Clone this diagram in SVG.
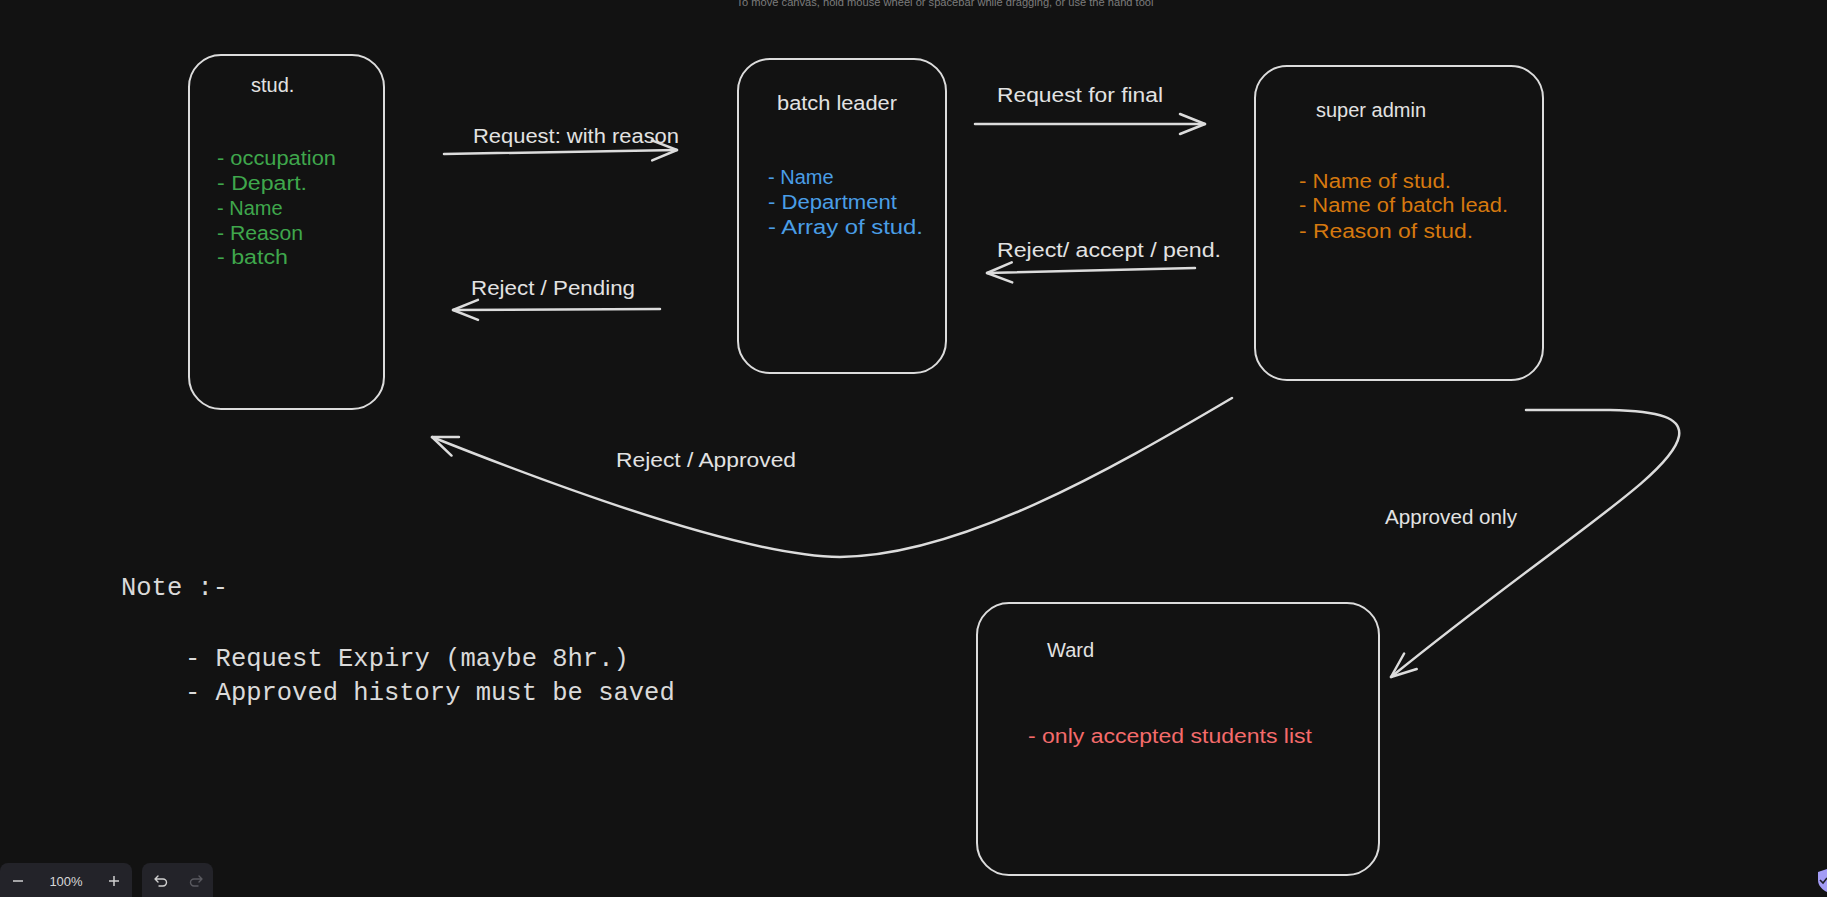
<svg xmlns="http://www.w3.org/2000/svg" width="1827" height="897" viewBox="0 0 1827 897">
<style>
.box{fill:#121212;stroke:#dcdcdc;stroke-width:2}
.lbl{font-family:"Liberation Sans","Noto Sans",sans-serif;font-size:20px;fill:#e2e2e2}
.green{fill:#3fa74c}
.blue{fill:#4a9ee6}
.orange{fill:#d6790f}
.red{fill:#f46b6b}
.conn{fill:none;stroke:#dcdcdc;stroke-width:2.5;stroke-linecap:round;stroke-linejoin:round}
.note{font-family:"Liberation Mono","DejaVu Sans Mono",monospace;font-size:25.5px;fill:#dadada}
.ui{fill:#232329}
</style>
<defs>
<marker id="ah" markerUnits="userSpaceOnUse" markerWidth="40" markerHeight="40" viewBox="-30 -20 40 40" refX="0" refY="0" orient="auto" overflow="visible">
<path d="M -25 -10 L 0 0 L -25 10" fill="none" stroke="#dcdcdc" stroke-width="2.5" stroke-linecap="round" stroke-linejoin="round"/>
</marker>
</defs>
<rect width="1827" height="897" fill="#121212"/>
<text x="945" y="6" text-anchor="middle" font-family="Liberation Sans,sans-serif" font-size="11.5" fill="#7c7c7c" textLength="417" lengthAdjust="spacingAndGlyphs">To move canvas, hold mouse wheel or spacebar while dragging, or use the hand tool</text>

<g id="stud">
<rect class="box" x="189" y="55" width="195" height="354" rx="32"/>
<text class="lbl" x="251" y="92">stud.</text>
<text x="217" y="165" class="lbl green" textLength="119" lengthAdjust="spacingAndGlyphs">- occupation</text>
<text x="217" y="190" class="lbl green" textLength="90" lengthAdjust="spacingAndGlyphs">- Depart.</text>
<text x="217" y="215" class="lbl green">- Name</text>
<text x="217" y="240" class="lbl green" textLength="86" lengthAdjust="spacingAndGlyphs">- Reason</text>
<text x="217" y="264" class="lbl green" textLength="71" lengthAdjust="spacingAndGlyphs">- batch</text>
</g>

<g id="batch-leader">
<rect class="box" x="738" y="59" width="208" height="314" rx="32"/>
<text class="lbl" x="777" y="110" textLength="120" lengthAdjust="spacingAndGlyphs">batch leader</text>
<text class="lbl blue" x="768" y="184">- Name</text>
<text class="lbl blue" x="768" y="209" textLength="129" lengthAdjust="spacingAndGlyphs">- Department</text>
<text class="lbl blue" x="768" y="234" textLength="155" lengthAdjust="spacingAndGlyphs">- Array of stud.</text>
</g>

<g id="super-admin">
<rect class="box" x="1255" y="66" width="288" height="314" rx="32"/>
<text class="lbl" x="1316" y="117" textLength="110" lengthAdjust="spacingAndGlyphs">super admin</text>
<text class="lbl orange" x="1299" y="188" textLength="152" lengthAdjust="spacingAndGlyphs">- Name of stud.</text>
<text class="lbl orange" x="1299" y="212" textLength="209" lengthAdjust="spacingAndGlyphs">- Name of batch lead.</text>
<text class="lbl orange" x="1299" y="238" textLength="174" lengthAdjust="spacingAndGlyphs">- Reason of stud.</text>
</g>

<g id="ward">
<rect class="box" x="977" y="603" width="402" height="272" rx="32"/>
<text class="lbl" x="1047" y="657">Ward</text>
<text class="lbl red" x="1028" y="743" textLength="284" lengthAdjust="spacingAndGlyphs">- only accepted students list</text>
</g>

<g id="connectors">
<path class="conn" d="M 444 154 L 677 150" marker-end="url(#ah)"/>
<text class="lbl" x="473" y="143" textLength="206" lengthAdjust="spacingAndGlyphs">Request: with reason</text>
<path class="conn" d="M 660 309 L 453 310" marker-end="url(#ah)"/>
<text class="lbl" x="471" y="295" textLength="164" lengthAdjust="spacingAndGlyphs">Reject / Pending</text>
<path class="conn" d="M 975 124 L 1205 124" marker-end="url(#ah)"/>
<text class="lbl" x="997" y="102" textLength="166" lengthAdjust="spacingAndGlyphs">Request for final</text>
<path class="conn" d="M 1195 268 L 987 273" marker-end="url(#ah)"/>
<text class="lbl" x="997" y="257" textLength="224" lengthAdjust="spacingAndGlyphs">Reject/ accept / pend.</text>
<path class="conn" d="M 1232 398 C 1110 470 960 556 840 557 C 740 556 540 480 432 437" marker-end="url(#ah)"/>
<text class="lbl" x="616" y="467" textLength="180" lengthAdjust="spacingAndGlyphs">Reject / Approved</text>
<path class="conn" d="M 1526 410 L 1610 410 C 1660 411 1682 418 1679 436 C 1672 475 1560 540 1391 677" marker-end="url(#ah)"/>
<text class="lbl" x="1385" y="524" textLength="132" lengthAdjust="spacingAndGlyphs">Approved only</text>
</g>

<g id="note">
<text class="note" x="121" y="595">Note :-</text>
<text class="note" x="185" y="666">- Request Expiry (maybe 8hr.)</text>
<text class="note" x="185" y="700">- Approved history must be saved</text>
</g>

<g id="toolbar">
<rect class="ui" x="0" y="863" width="132" height="44" rx="8"/>
<rect class="ui" x="142" y="863" width="71" height="44" rx="8"/>
<path d="M 13 881 L 23 881" stroke="#d0d0d0" stroke-width="1.5"/>
<text x="66" y="886" text-anchor="middle" font-family="Liberation Sans,sans-serif" font-size="13" fill="#d8d8d8">100%</text>
<path d="M 109 881 L 119 881 M 114 876 L 114 886" stroke="#d0d0d0" stroke-width="1.5"/>
<path d="M 158 876 L 155 879 L 158 882 M 155 879 L 163 879 A 3.5 3.5 0 0 1 163 886 L 159 886" fill="none" stroke="#d0d0d0" stroke-width="1.4" stroke-linecap="round" stroke-linejoin="round"/>
<path d="M 199 876 L 202 879 L 199 882 M 202 879 L 194 879 A 3.5 3.5 0 0 0 194 886 L 198 886" fill="none" stroke="#5a5a60" stroke-width="1.4" stroke-linecap="round" stroke-linejoin="round"/>
<path d="M 1818 872 L 1827 869 L 1836 872 L 1836 880 C 1836 886 1831 890 1827 892 C 1823 890 1818 886 1818 880 Z" fill="#a39cf5"/>
<path d="M 1820 880 L 1823 883 L 1827 878" fill="none" stroke="#1e1e2a" stroke-width="1.6"/>
</g>
</svg>
